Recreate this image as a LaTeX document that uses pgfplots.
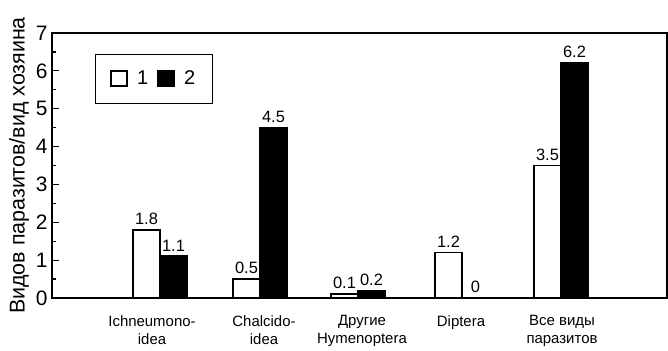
\documentclass[border=0pt]{standalone}
\usepackage{pgfplots}
\pgfplotsset{compat=1.18}
\usepackage{fontspec}
\setmainfont{Liberation Sans}
\begin{document}
\begin{tikzpicture}
\useasboundingbox (-52bp,-53bp) rectangle (616bp,298bp);
\begin{axis}[
  at={(0,0)}, anchor=south west,
  scale only axis, width=615bp, height=265bp,
  xmin=-1.08, xmax=5.07, ymin=0, ymax=7,
  ybar, bar width=0.27,
  xtick={-0.08,1.04,2.02,3.01,4.02}, major x tick style={draw=none},
  xticklabels={{Ichneumono-\\idea},{Chalcido-\\idea},{Другие\\Hymenoptera},{Diptera},{Все виды\\паразитов}},
  xticklabel style={align=center, font=\fontsize{15}{18}\selectfont, anchor=north, yshift=-14bp},
  ytick={0,1,2,3,4,5,6,7}, minor ytick={0.5,1.5,2.5,3.5,4.5,5.5,6.5},
  ytick pos=left, tick align=inside,
  major tick length=7bp, minor tick length=4bp,
  every tick/.style={line width=1.2bp, black},
  yticklabel style={font=\fontsize{21}{21}\selectfont, xshift=-1bp},
  /pgf/number format/assume math mode=true,
  ylabel={Видов паразитов/вид хозяина},
  ylabel style={font=\fontsize{21.5}{21.5}\selectfont, at={(rel axis cs:0,0.5)}, anchor=center, yshift=33bp},
  axis line style={line width=2.2bp},
  nodes near coords,
  every node near coord/.append style={font=\fontsize{16.5}{16.5}\selectfont, black, yshift=1bp},
  legend style={at={(rel axis cs:0.07,0.922)}, anchor=north west, draw=black, line width=0.8bp,
    font=\fontsize{20}{20}\selectfont, inner xsep=15bp, inner ysep=15bp,
    /tikz/every odd column/.append style={column sep=7bp},
    /tikz/every even column/.append style={column sep=7bp}},
  legend columns=2,
  legend image code/.code={\draw[#1, line width=1.8bp] (0bp,-7.5bp) rectangle (16bp,7.5bp);},
]
\addplot[draw=black, fill=white, line width=1.8bp, bar shift=-0.135] coordinates {(0,1.8) (1,0.5) (1.98,0.1) (3.02,1.2) (4.01,3.5)};
\addplot[draw=black, fill=black, line width=1.8bp, bar shift=0.135] coordinates {(0,1.1) (1,4.5) (1.98,0.2) (3.02,0) (4.01,6.2)};
\legend{1,2}
\end{axis}
\end{tikzpicture}
\end{document}
